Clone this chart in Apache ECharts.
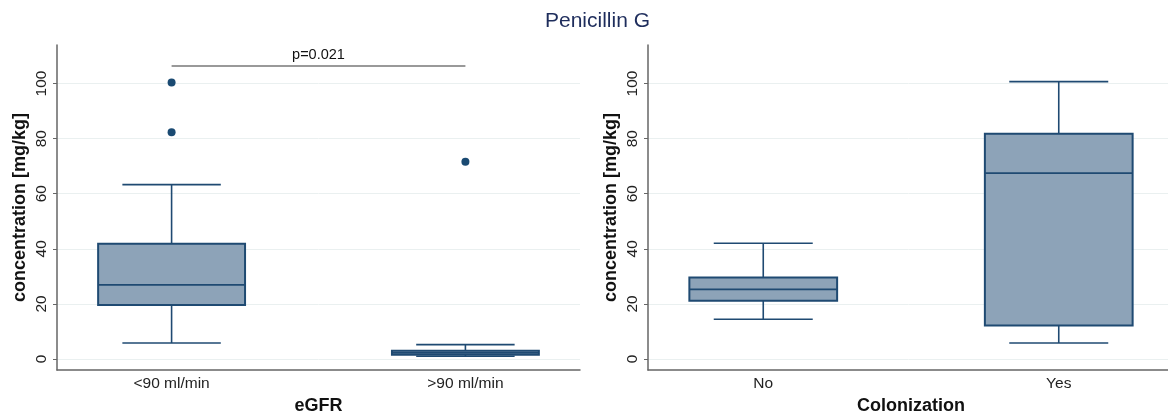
<!DOCTYPE html>
<html>
<head>
<meta charset="utf-8">
<script src="https://cdn.jsdelivr.net/npm/echarts@6/dist/echarts.min.js"></script>
<style>html,body{margin:0;padding:0;background:#fff;}#c{width:1168px;height:417px;}</style>
</head>
<body>
<div id="c"></div>
<script>
// ---- data ----
const title = 'Penicillin G';
const yName = 'concentration [mg/kg]';
const yTicks = [0, 20, 40, 60, 80, 100];

const leftCategories = ['<90 ml/min', '>90 ml/min'];
const leftXName = 'eGFR';
// [low, q1, median, q3, high]
const leftBoxes = [
  [5.8, 19.6, 26.9, 41.8, 63.3],
  [1.0, 1.5, 2.2, 3.0, 5.2]
];
// [categoryIndex, value]
const leftOutliers = [[0, 100.4], [0, 82.3], [1, 71.6]];
const pText = 'p=0.021';
const pBracketValue = 106.6;

const rightCategories = ['No', 'Yes'];
const rightXName = 'Colonization';
const rightBoxes = [
  [14.4, 21.1, 25.3, 29.6, 42.0],
  [5.8, 12.2, 67.5, 81.8, 100.7]
];
const rightOutliers = [];

// ---- styles ----
const BOX_FILL = '#8da3b8';
const BOX_STROKE = '#1f4a72';
const DOT = '#1a4a72';
const FONT = '"Liberation Sans", Arial, sans-serif';

function boxSeries(boxes, axisIdx) {
  return {
    type: 'custom',
    xAxisIndex: axisIdx, yAxisIndex: axisIdx,
    data: boxes.map((b, i) => [i + 1].concat(b)),
    encode: { x: 0, y: [1, 2, 3, 4, 5] },
    renderItem: function (params, api) {
      const x = api.value(0);
      const unit = api.size([1, 0])[0];
      const bw = unit * 0.5, cw = unit * 0.335;
      const pLow = api.coord([x, api.value(1)]);
      const pQ1 = api.coord([x, api.value(2)]);
      const pMed = api.coord([x, api.value(3)]);
      const pQ3 = api.coord([x, api.value(4)]);
      const pHigh = api.coord([x, api.value(5)]);
      const cx = pMed[0];
      const ls = { stroke: BOX_STROKE, lineWidth: 1.6, fill: null };
      return {
        type: 'group',
        children: [
          { type: 'line', shape: { x1: cx, y1: pHigh[1], x2: cx, y2: pQ3[1] }, style: ls },
          { type: 'line', shape: { x1: cx, y1: pQ1[1], x2: cx, y2: pLow[1] }, style: ls },
          { type: 'rect', shape: { x: cx - bw / 2, y: pQ3[1], width: bw, height: pQ1[1] - pQ3[1] },
            style: { fill: BOX_FILL, stroke: BOX_STROKE, lineWidth: 2 } },
          { type: 'line', shape: { x1: cx - bw / 2, y1: pMed[1], x2: cx + bw / 2, y2: pMed[1] }, style: { stroke: BOX_STROKE, lineWidth: 1.8, fill: null } },
          { type: 'line', shape: { x1: cx - cw / 2, y1: pHigh[1], x2: cx + cw / 2, y2: pHigh[1] }, style: ls },
          { type: 'line', shape: { x1: cx - cw / 2, y1: pLow[1], x2: cx + cw / 2, y2: pLow[1] }, style: ls }
        ]
      };
    }
  };
}

function outlierSeries(pts, axisIdx) {
  return {
    type: 'scatter', xAxisIndex: axisIdx, yAxisIndex: axisIdx,
    data: pts.map(p => [p[0] + 1, p[1]]),
    symbolSize: 8, itemStyle: { color: DOT, opacity: 1 }, silent: true, z: 5
  };
}

function xAxis(cats, name, gridIdx) {
  return {
    type: 'value', gridIndex: gridIdx, min: 0.61, max: 2.39,
    name: name, nameLocation: 'middle', nameGap: 27,
    nameTextStyle: { fontFamily: FONT, fontSize: 18, fontWeight: 'bold', color: '#111' },
    axisLine: { show: true, onZero: false, lineStyle: { color: '#666', width: 1.5 } },
    axisTick: { show: false },
    splitLine: { show: false },
    axisLabel: {
      customValues: cats.map((c, i) => i + 1),
      formatter: v => cats[Math.round(v) - 1] || '',
      fontFamily: FONT, fontSize: 15.5, color: '#222', margin: 6
    }
  };
}

function yAxis(gridIdx) {
  return {
    type: 'value', gridIndex: gridIdx, min: -4, max: 114,
    name: yName, nameLocation: 'middle', nameGap: 28,
    nameTextStyle: { fontFamily: FONT, fontSize: 18, fontWeight: 'bold', color: '#111' },
    axisLine: { show: true, onZero: false, lineStyle: { color: '#666', width: 1.5 } },
    axisTick: { show: true, customValues: yTicks, length: 4, lineStyle: { color: '#666' } },
    axisLabel: { customValues: yTicks, rotate: 90, fontFamily: FONT, fontSize: 15.5, color: '#222', margin: 7 },
    splitLine: { show: true, lineStyle: { color: '#eaf0f0', width: 1 } }
  };
}

const chart = echarts.init(document.getElementById('c'), null, { renderer: 'canvas' });
const leftBox = boxSeries(leftBoxes, 0);
leftBox.markLine = {
  silent: true, symbol: 'none',
  lineStyle: { color: '#777', width: 1.5, type: 'solid' },
  label: { show: true, position: 'middle', formatter: pText, fontFamily: FONT, fontSize: 14.5, color: '#111', distance: 3 },
  data: [[{ coord: [1, pBracketValue] }, { coord: [2, pBracketValue] }]]
};

chart.setOption({
  animation: false,
  backgroundColor: '#fff',
  title: {
    text: title, left: 540, top: 6,
    textStyle: { fontFamily: FONT, fontSize: 21, fontWeight: 'normal', color: '#1e2d5c' }
  },
  grid: [
    { left: 57, right: 588, top: 45, bottom: 47, containLabel: false, outerBoundsMode: 'none' },
    { left: 648, right: -6, top: 45, bottom: 47, containLabel: false, outerBoundsMode: 'none' }
  ],
  xAxis: [xAxis(leftCategories, leftXName, 0), xAxis(rightCategories, rightXName, 1)],
  yAxis: [yAxis(0), yAxis(1)],
  series: [
    leftBox,
    outlierSeries(leftOutliers, 0),
    boxSeries(rightBoxes, 1),
    outlierSeries(rightOutliers, 1)
  ]
});
</script>
</body>
</html>
